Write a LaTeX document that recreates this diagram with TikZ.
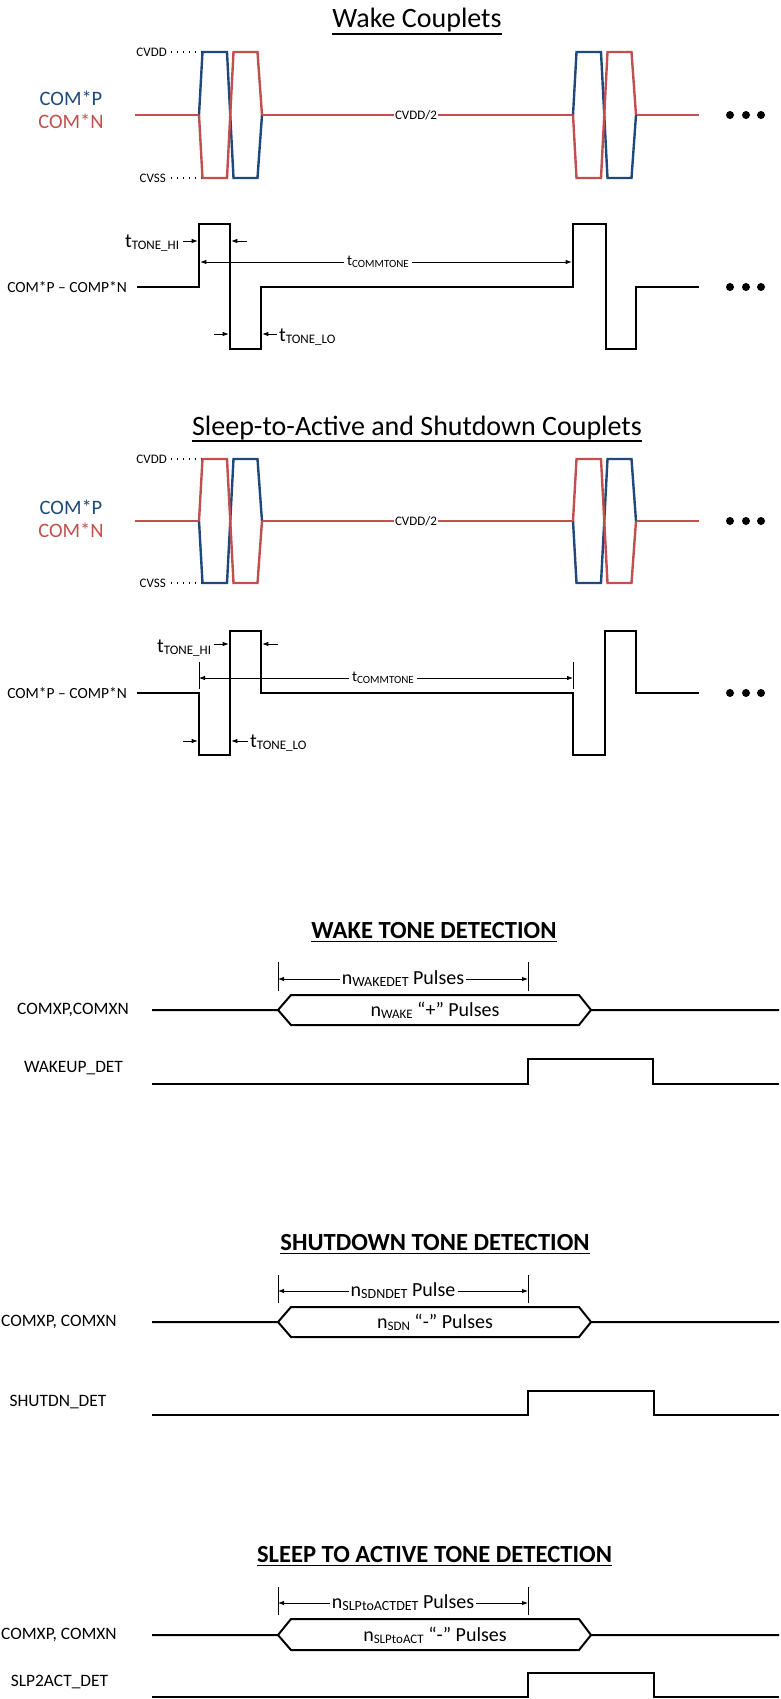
\documentclass[tikz,border=0pt]{standalone}
\usepackage{fontspec}
\setmainfont{Carlito}
\usetikzlibrary{arrows.meta,calc}
\definecolor{comp}{RGB}{31,73,125}
\definecolor{comn}{RGB}{192,80,77}
\newcommand{\lowtext}[2]{\raisebox{-2pt}{\fontsize{#1}{#1}\selectfont #2}}

\begin{document}
\begin{tikzpicture}[x=1pt, y=-1pt,
 every node/.style={inner sep=0pt},
 couptitle/.style={font=\fontsize{28}{32}\selectfont},
 dettitle/.style={font=\bfseries\fontsize{24.6}{28}\selectfont},
 rail/.style={font=\fontsize{13}{15}\selectfont},
 pname/.style={font=\fontsize{20.5}{23}\selectfont, text=comp},
 nname/.style={font=\fontsize{20.5}{23}\selectfont, text=comn},
 dname/.style={font=\fontsize{15.5}{18}\selectfont},
 tlbl/.style={font=\fontsize{20}{22}\selectfont},
 clbl/.style={font=\fontsize{15}{17}\selectfont, inner xsep=3pt},
 sname/.style={font=\fontsize{17.4}{21}\selectfont},
 plbl/.style={font=\fontsize{20}{23}\selectfont},
 uline/.style={line width=1.5pt},
 railline/.style={line width=1.1pt, dash pattern=on 1.1pt off 4.8pt},
 posline/.style={draw=comp, line width=2.4pt},
 negline/.style={draw=comn, line width=2.4pt},
 wave/.style={line width=2.6pt},
 bus/.style={line width=2pt},
 dim/.style={-{Latex[length=6pt,width=4.5pt]}, line width=0.8pt},
 tick/.style={line width=0.8pt},
 dot/.style={circle, fill=black, minimum size=8pt}]

\useasboundingbox (0,0) rectangle (780,1699);

% wake couplets
\node[couptitle, anchor=base] (ttlwake) at (417,28) {Wake Couplets};
\draw[uline] ($(ttlwake.base west)+(0,6)$) -- ($(ttlwake.base east)+(0,6)$);
\node[rail, anchor=east] (vdda) at (167,52) {CVDD};
\node[rail, anchor=east] (vssa) at (166,178) {CVSS};
\draw[railline] ($(vdda.east)+(4,0)$) -- (201,52);
\draw[railline] ($(vssa.east)+(5,0)$) -- (201,178);
\node[pname] (cpa) at (71,98) {COM*P};
\node[nname] (cna) at (71,121) {COM*N};
\foreach \xa in {199,573} {
  \draw[posline] (\xa,115) -- ++(3.5,-63) -- ++(24.5,0) -- ++(6.5,126) -- ++(24,0) -- ++(4.5,-63);
  \draw[negline] (\xa,115) -- ++(3.5,63) -- ++(24.5,0) -- ++(6.5,-126) -- ++(24,0) -- ++(4.5,63);
}
\draw[negline] (135,115) -- (199,115) (262,115) -- (573,115) (637,115) -- (699,115);
\node[rail, fill=white, inner xsep=1.5pt] (halfa) at (416,115) {CVDD/2};
\foreach \xd in {730,746,761} \node[dot] (dota\xd) at (\xd,115) {};

\node[dname, anchor=east] (diffa) at (127,287) {COM*P – COMP*N};
\draw[wave] (137,287) -- (199,287) -- (199,224) -- (230,224) -- (230,349) -- (261,349) -- (261,287)
  -- (573,287) -- (573,224) -- (606,224) -- (606,349) -- (636,349) -- (636,287) -- (699,287);
\foreach \xd in {730,746,761} \node[dot] (dotb\xd) at (\xd,287) {};

\node[tlbl, anchor=base west] (thia) at (125,247) {t\lowtext{13}{TONE\_HI}};
\coordinate (risea) at (197.7,241);
\coordinate (falla) at (231.3,241);
\draw (183,241) edge[dim] (risea);
\draw (247,241) edge[dim] (falla);
\node[clbl, anchor=base] (tcma) at (378,265) {t\lowtext{11}{COMMTONE}};
\coordinate (cma1) at (200.3,262);
\coordinate (cma2) at (571.7,262);
\draw (tcma.west |- cma1) edge[dim] (cma1);
\draw (tcma.east |- cma2) edge[dim] (cma2);
\node[tlbl, anchor=base west] (tloa) at (279,341) {t\lowtext{13}{TONE\_LO}};
\coordinate (lofa) at (228.7,334);
\coordinate (lora) at (262.3,334);
\draw (214,334) edge[dim] (lofa);
\draw (277,334) edge[dim] (lora);

% sleep-to-active and shutdown couplets
\node[couptitle, anchor=base] (ttlsleep) at (417,435) {Sleep-to-Active and Shutdown Couplets};
\draw[uline] ($(ttlsleep.base west)+(0,6)$) -- ($(ttlsleep.base east)+(0,6)$);
\node[rail, anchor=east] (vddb) at (167,459) {CVDD};
\node[rail, anchor=east] (vssb) at (166,583) {CVSS};
\draw[railline] ($(vddb.east)+(4,0)$) -- (201,459);
\draw[railline] ($(vssb.east)+(5,0)$) -- (201,583);
\node[pname] (cpb) at (71,507) {COM*P};
\node[nname] (cnb) at (71,530) {COM*N};
\foreach \xb in {199,573} {
  \draw[posline] (\xb,521) -- ++(3.5,62) -- ++(24.5,0) -- ++(6.5,-124) -- ++(24,0) -- ++(4.5,62);
  \draw[negline] (\xb,521) -- ++(3.5,-62) -- ++(24.5,0) -- ++(6.5,124) -- ++(24,0) -- ++(4.5,-62);
}
\draw[negline] (135,521) -- (199,521) (262,521) -- (573,521) (637,521) -- (699,521);
\node[rail, fill=white, inner xsep=1.5pt] (halfb) at (416,521) {CVDD/2};
\foreach \xd in {730,746,761} \node[dot] (dotc\xd) at (\xd,521) {};

\node[dname, anchor=east] (diffb) at (127,693) {COM*P – COMP*N};
\draw[wave] (137,693) -- (199,693) -- (199,755) -- (230,755) -- (230,631) -- (261,631) -- (261,693)
  -- (573,693) -- (573,755) -- (605,755) -- (605,631) -- (636,631) -- (636,693) -- (699,693);
\foreach \xd in {730,746,761} \node[dot] (dotd\xd) at (\xd,693) {};

\node[tlbl, anchor=base west] (thib) at (157,652) {t\lowtext{13}{TONE\_HI}};
\coordinate (riseb) at (228.7,644);
\coordinate (fallb) at (262.3,644);
\draw (214,644) edge[dim] (riseb);
\draw (278,644) edge[dim] (fallb);
\draw[tick] (199,662) -- (199,689) (573,662) -- (573,689);
\node[clbl, anchor=base] (tcmb) at (383,681) {t\lowtext{11}{COMMTONE}};
\coordinate (cmb1) at (199,678);
\coordinate (cmb2) at (573,678);
\draw (tcmb.west |- cmb1) edge[dim] (cmb1);
\draw (tcmb.east |- cmb2) edge[dim] (cmb2);
\node[tlbl, anchor=base west] (tlob) at (250,747) {t\lowtext{13}{TONE\_LO}};
\coordinate (lofb) at (197.7,741);
\coordinate (lorb) at (231.3,741);
\draw (183,741) edge[dim] (lofb);
\draw (248,741) edge[dim] (lorb);

% wake tone detection
\node[dettitle, anchor=base] (ttlwt) at (434,938) {WAKE TONE DETECTION};
\draw[uline] ($(ttlwt.base west)+(0,3.5)$) -- ($(ttlwt.base east)+(0,3.5)$);
\node[sname] (cxa) at (73,1010) {COMXP,COMXN};
\node[sname] (wkdet) at (73.5,1068) {WAKEUP\_DET};
\draw[bus] (152,1010) -- (278,1010) -- (291,995) -- (579,995) -- (591,1010) -- (779,1010);
\draw[bus] (278,1010) -- (291,1025) -- (579,1025) -- (591,1010);
\node[plbl] (nwk) at (435,1010) {n\lowtext{13}{WAKE} “+” Pulses};
\draw[tick] (278,962) -- (278,991) (528,962) -- (528,991);
\node[plbl, inner xsep=2pt] (nwkd) at (403,979) {n\lowtext{14}{WAKEDET} Pulses};
\coordinate (wka) at (278,979);
\coordinate (wkb) at (528,979);
\draw (nwkd.west |- wka) edge[dim] (wka);
\draw (nwkd.east |- wkb) edge[dim] (wkb);
\draw[bus] (152,1084) -- (528,1084) -- (528,1059) -- (653,1059) -- (653,1084) -- (779,1084);

% shutdown tone detection
\node[dettitle, anchor=base] (ttlsd) at (435,1250) {SHUTDOWN TONE DETECTION};
\draw[uline] ($(ttlsd.base west)+(0,3.5)$) -- ($(ttlsd.base east)+(0,3.5)$);
\node[sname, anchor=west] (cxb) at (1,1322) {COMXP, COMXN};
\node[sname] (sddet) at (58,1402) {SHUTDN\_DET};
\draw[bus] (152,1322) -- (278,1322) -- (291,1307) -- (579,1307) -- (591,1322) -- (779,1322);
\draw[bus] (278,1322) -- (291,1337) -- (579,1337) -- (591,1322);
\node[plbl] (nsd) at (435,1322) {n\lowtext{13}{SDN} “-” Pulses};
\draw[tick] (278,1275) -- (278,1303) (528,1275) -- (528,1303);
\node[plbl, inner xsep=2pt] (nsdd) at (403,1291) {n\lowtext{14}{SDNDET} Pulse};
\coordinate (sda) at (278,1291);
\coordinate (sdb) at (528,1291);
\draw (nsdd.west |- sda) edge[dim] (sda);
\draw (nsdd.east |- sdb) edge[dim] (sdb);
\draw[bus] (152,1415) -- (528,1415) -- (528,1391) -- (654,1391) -- (654,1415) -- (779,1415);

% sleep to active tone detection
\node[dettitle, anchor=base] (ttlsa) at (434.5,1562) {SLEEP TO ACTIVE TONE DETECTION};
\draw[uline] ($(ttlsa.base west)+(0,3.5)$) -- ($(ttlsa.base east)+(0,3.5)$);
\node[sname, anchor=west] (cxc) at (1,1635) {COMXP, COMXN};
\node[sname] (sadet) at (59.5,1682) {SLP2ACT\_DET};
\draw[bus] (152,1635) -- (278,1635) -- (291,1619) -- (579,1619) -- (591,1635) -- (779,1635);
\draw[bus] (278,1635) -- (291,1650) -- (579,1650) -- (591,1635);
\node[plbl] (nsa) at (435,1635) {n\lowtext{13}{SLPtoACT} “-” Pulses};
\draw[tick] (278,1587) -- (278,1615) (528,1587) -- (528,1615);
\node[plbl, inner xsep=2pt] (nsad) at (403,1603) {n\lowtext{14}{SLPtoACTDET} Pulses};
\coordinate (saa) at (278,1603);
\coordinate (sab) at (528,1603);
\draw (nsad.west |- saa) edge[dim] (saa);
\draw (nsad.east |- sab) edge[dim] (sab);
\draw[bus] (152,1697) -- (528,1697) -- (528,1673) -- (654,1673) -- (654,1697) -- (779,1697);
\end{tikzpicture}
\end{document}
